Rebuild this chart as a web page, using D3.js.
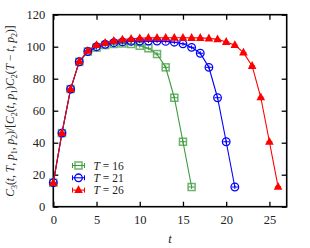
<!DOCTYPE html>
<html>
<head>
<meta charset="utf-8">
<script src="https://cdn.jsdelivr.net/npm/d3@7"></script>
<style>
  html, body { margin: 0; padding: 0; background: #fff; }
  svg { display: block; font-family: "Liberation Serif", "DejaVu Serif", serif; }
</style>
</head>
<body>
<svg id="chart" width="310" height="248"></svg>
<script>
// values
const t16 = [0,1,2,3,4,5,6,7,8,9,10,11,12,13,14,15,16];
const y16 = [15,46,73.5,90.5,97,99.4,101,101.7,102,101.7,100.6,99,95.4,87.1,68.1,40.6,12.3];

const t21 = [0,1,2,3,4,5,6,7,8,9,10,11,12,13,14,15,16,17,18,19,20,21];
const y21 = [15,46,73.5,90.6,97,100,101.5,102.5,103,103.3,103.5,103.5,103.5,103.3,102.8,101.8,99.6,95.9,87.1,68.1,40.6,12.3];

const t26 = [0,1,2,3,4,5,6,7,8,9,10,11,12,13,14,15,16,17,18,19,20,21,22,23,24,25,26];
const y26 = [15,46,73.5,90.8,97.5,101,102.5,103.7,104.5,105,105.3,105.5,105.6,105.6,105.6,105.6,105.5,105.5,105.2,104.6,103,101,96.3,88,68.4,40.6,12.5];

const xTicks = [0, 5, 10, 15, 20, 25];
const yTicks = [0, 20, 40, 60, 80, 100, 120];

const series = [
  { label: "16", t: t16, y: y16, color: "#3c9a3c", shape: "square" },
  { label: "21", t: t21, y: y21, color: "#0000ff", shape: "circle" },
  { label: "26", t: t26, y: y26, color: "#ff0000", shape: "triangle" }
];

const margin = { top: 14.7, right: 23.3, bottom: 41.3, left: 53.3 };
const width = 310 - margin.left - margin.right;
const height = 248 - margin.top - margin.bottom;

const svg = d3.select("#chart");
const g = svg.append("g").attr("transform", `translate(${margin.left},${margin.top})`);

const x = d3.scaleLinear().domain([0, 27]).range([0, width]);
const y = d3.scaleLinear().domain([0, 120]).range([height, 0]);

// inside ticks on all four sides
const tickLen = 5;
g.append("g").attr("transform", `translate(0,${height})`)
  .call(d3.axisBottom(x).tickValues(xTicks).tickSizeInner(-tickLen).tickSizeOuter(0).tickPadding(8))
  .call(a => a.select(".domain").remove());
g.append("g")
  .call(d3.axisTop(x).tickValues(xTicks).tickSizeInner(-tickLen).tickSizeOuter(0).tickFormat(""))
  .call(a => a.select(".domain").remove());
g.append("g")
  .call(d3.axisLeft(y).tickValues(yTicks).tickSizeInner(-tickLen).tickSizeOuter(0).tickPadding(8))
  .call(a => a.select(".domain").remove());
g.append("g").attr("transform", `translate(${width},0)`)
  .call(d3.axisRight(y).tickValues(yTicks).tickSizeInner(-tickLen).tickSizeOuter(0).tickFormat(""))
  .call(a => a.select(".domain").remove());

g.selectAll(".tick line").attr("stroke", "#000").attr("stroke-width", 1.3);
g.selectAll(".tick text").attr("font-family", "Liberation Serif, serif").attr("font-size", 12.5).attr("fill", "#222");

// frame
g.append("rect").attr("width", width).attr("height", height)
  .attr("fill", "none").attr("stroke", "#000").attr("stroke-width", 1.6);

const line = d3.line().x(d => x(d[0])).y(d => y(d[1]));

function shapeMark(sel, shape, color) {
  if (shape === "square") {
    sel.append("rect").attr("x", -3.5).attr("y", -3.5).attr("width", 7).attr("height", 7)
      .attr("fill", "none").attr("stroke", color).attr("stroke-opacity", 0.75).attr("stroke-width", 1.5);
  } else if (shape === "circle") {
    sel.append("circle").attr("r", 3.8)
      .attr("fill", "none").attr("stroke", color).attr("stroke-width", 1.3);
  } else {
    sel.append("path").attr("d", "M0,-4.8L4.3,3L-4.3,3Z").attr("fill", color);
  }
}

function marker(sel, shape, color) {
  // small error bar caps through the marker
  sel.append("line").attr("x1", -3).attr("x2", 3).attr("y1", 0).attr("y2", 0)
    .attr("stroke", color).attr("stroke-width", 1);
  sel.append("line").attr("x1", 0).attr("x2", 0).attr("y1", -2).attr("y2", 2)
    .attr("stroke", color).attr("stroke-width", 1);
  shapeMark(sel, shape, color);
}

series.forEach(s => {
  const pts = s.t.map((t, i) => [t, s.y[i]]);
  g.append("path").datum(pts).attr("d", line)
    .attr("fill", "none").attr("stroke", s.color).attr("stroke-width", 1.1);
  g.selectAll(null).data(pts).join("g")
    .attr("transform", d => `translate(${x(d[0])},${y(d[1])})`)
    .each(function() { marker(d3.select(this), s.shape, s.color); });
});

// legend
const legend = g.append("g").attr("transform", `translate(${78.5 - margin.left},${165.5 - margin.top})`);
series.forEach((s, i) => {
  const row = legend.append("g").attr("transform", `translate(0,${i * 12.3})`);
  row.append("line").attr("x1", -6).attr("x2", 6).attr("stroke", s.color).attr("stroke-width", 1.1);
  row.append("line").attr("x1", -6).attr("x2", -6).attr("y1", -2.5).attr("y2", 2.5).attr("stroke", s.color);
  row.append("line").attr("x1", 6).attr("x2", 6).attr("y1", -2.5).attr("y2", 2.5).attr("stroke", s.color);
  shapeMark(row.append("g"), s.shape, s.color);
  const txt = row.append("text").attr("x", 15).attr("y", 4)
    .attr("font-size", 11.5).attr("fill", "#222");
  txt.append("tspan").attr("font-style", "italic").text("T");
  txt.append("tspan").text(" = " + s.label);
});

// axis labels
svg.append("text").attr("x", 170).attr("y", 243)
  .attr("text-anchor", "middle").attr("font-size", 12.5).attr("font-style", "italic").attr("fill", "#222")
  .text("t");

const yl = svg.append("text")
  .attr("transform", `translate(14,111) rotate(-90)`)
  .attr("text-anchor", "middle").attr("font-size", 11.5).attr("fill", "#222");
const parts = [
  ["C", "i"], ["3", "s"], ["(", ""], ["t", "i"], [", ", ""], ["T", "i"], [", ", ""], ["p", "i"], ["1", "s"],
  [", ", ""], ["p", "i"], ["2", "s"], [")/[", ""], ["C", "i"], ["2", "s"], ["(", ""], ["t", "i"], [", ", ""],
  ["p", "i"], ["1", "s"], [")", ""], ["C", "i"], ["2", "s"], ["(", ""], ["T", "i"], [" − ", ""], ["t", "i"],
  [", ", ""], ["p", "i"], ["2", "s"], [")]", ""]
];
let sub = false;
parts.forEach(([s, k]) => {
  const ts = yl.append("tspan").text(s);
  if (k === "i") ts.attr("font-style", "italic");
  if (k === "s") { ts.attr("font-size", 8).attr("dy", 2.5); sub = true; }
  else if (sub) { ts.attr("dy", -2.5); sub = false; }
});
</script>
</body>
</html>
